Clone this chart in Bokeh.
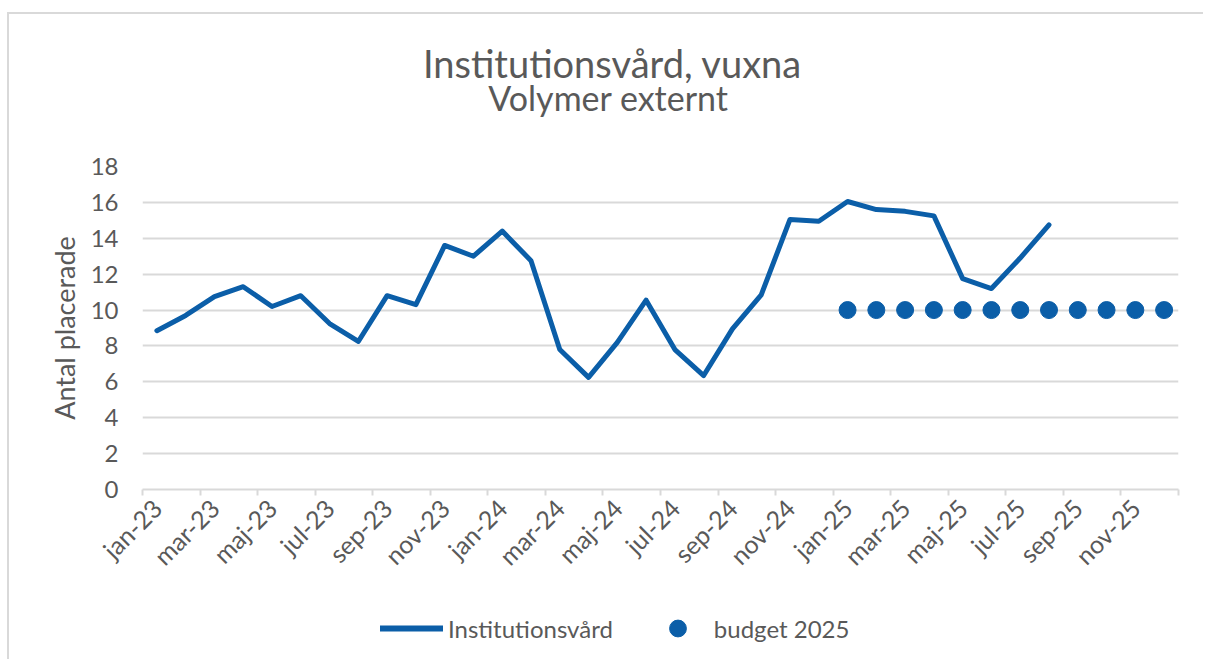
import math
from bokeh.plotting import figure
from bokeh.layouts import column
from bokeh.models import (Range1d, FixedTicker, Label, Legend, ColumnDataSource)
from bokeh.embed import file_html
from bokeh.resources import INLINE

# ---- data ----
months = ["jan-23", "feb-23", "mar-23", "apr-23", "maj-23", "jun-23",
          "jul-23", "aug-23", "sep-23", "okt-23", "nov-23", "dec-23",
          "jan-24", "feb-24", "mar-24", "apr-24", "maj-24", "jun-24",
          "jul-24", "aug-24", "sep-24", "okt-24", "nov-24", "dec-24",
          "jan-25", "feb-25", "mar-25", "apr-25", "maj-25", "jun-25",
          "jul-25", "aug-25", "sep-25", "okt-25", "nov-25", "dec-25"]
institutionsvard = [8.85, 9.7, 10.75, 11.3, 10.2, 10.8, 9.25, 8.25, 10.8, 10.3,
                    13.6, 13.0, 14.4, 12.75, 7.8, 6.25, 8.2, 10.55, 7.8, 6.35,
                    8.95, 10.85, 15.05, 14.95, 16.05, 15.6, 15.5, 15.25, 11.75,
                    11.2, 12.9, 14.75]
budget_months = ["jan-25", "feb-25", "mar-25", "apr-25", "maj-25", "jun-25",
                 "jul-25", "aug-25", "sep-25", "okt-25", "nov-25", "dec-25"]
budget_2025 = [10, 10, 10, 10, 10, 10, 10, 10, 10, 10, 10, 10]
y_ticks = [0, 2, 4, 6, 8, 10, 12, 14, 16, 18]

title_text = "Institutionsvård, vuxna"
subtitle_text = "Volymer externt"
y_label = "Antal placerade"
series_names = ["Institutionsvård", "budget 2025"]

BLUE = "#0B5EA8"
GREY_TXT = "#595959"
GRID = "#d9d9d9"
FONT = "Lato"
W = 1194

idx = {m: i for i, m in enumerate(months)}
src_line = ColumnDataSource(dict(x=[idx[m] for m in months[:len(institutionsvard)]],
                                 y=institutionsvard))
src_bud = ColumnDataSource(dict(x=[idx[m] for m in budget_months], y=budget_2025))


def bare(height):
    f = figure(width=W, height=height, output_backend="svg", toolbar_location=None,
               x_range=Range1d(0, 1), y_range=Range1d(0, 1),
               x_axis_location=None, y_axis_location=None,
               min_border_left=0, min_border_right=0, min_border_top=0,
               min_border_bottom=0)
    f.title = None
    f.outline_line_color = None
    f.grid.visible = False
    return f


# ---- title block (its frame is aligned with the chart frame) ----
pt = bare(110)
pt.add_layout(Label(x=470, y=62, x_units="screen", y_units="screen", text=title_text,
                    text_align="center", text_baseline="alphabetic", text_font=FONT,
                    text_font_size="38px", text_color=GREY_TXT))
pt.add_layout(Label(x=466, y=27, x_units="screen", y_units="screen", text=subtitle_text,
                    text_align="center", text_baseline="alphabetic", text_font=FONT,
                    text_font_size="34px", text_color=GREY_TXT))

# ---- main chart ----
p = figure(width=W, height=480, output_backend="svg", toolbar_location=None,
           x_range=Range1d(-0.5, len(months) - 0.5), y_range=Range1d(0, 18),
           min_border_left=133, min_border_right=25, min_border_top=42,
           min_border_bottom=115)
p.title = None
p.outline_line_color = None

p.xgrid.grid_line_color = None
p.ygrid.grid_line_color = GRID
p.ygrid.grid_line_width = 2
p.yaxis.ticker = FixedTicker(ticks=y_ticks)

p.yaxis.axis_line_color = None
p.yaxis.major_tick_line_color = None
p.yaxis.minor_tick_line_color = None
p.yaxis.major_tick_out = 0
p.yaxis.major_label_standoff = 24
p.yaxis.major_label_text_font = FONT
p.yaxis.major_label_text_font_size = "24px"
p.yaxis.major_label_text_color = GREY_TXT
p.yaxis.axis_label = y_label
p.yaxis.axis_label_text_font = FONT
p.yaxis.axis_label_text_font_size = "27px"
p.yaxis.axis_label_text_font_style = "normal"
p.yaxis.axis_label_text_color = GREY_TXT
p.yaxis.axis_label_standoff = 7

label_idx = list(range(0, len(months), 2))
p.xaxis.ticker = FixedTicker(ticks=label_idx,
                             minor_ticks=[i - 0.5 for i in range(0, len(months) + 1, 2)])
p.xaxis.major_label_overrides = {i: months[i] for i in label_idx}
p.xaxis.major_tick_line_color = None
p.xaxis.major_tick_out = 0
p.xaxis.minor_tick_line_color = GRID
p.xaxis.minor_tick_line_width = 2
p.xaxis.minor_tick_in = 0
p.xaxis.minor_tick_out = 6
p.xaxis.axis_line_color = GRID
p.xaxis.axis_line_width = 2
p.xaxis.major_label_orientation = math.pi / 4
p.xaxis.major_label_standoff = 8
p.xaxis.major_label_text_font = FONT
p.xaxis.major_label_text_font_size = "25px"
p.xaxis.major_label_text_color = GREY_TXT

line_style = dict(line_color=BLUE, line_width=5, line_join="round", line_cap="round")
dot_style = dict(marker="circle", size=17, fill_color=BLUE, line_color=BLUE)
p.line("x", "y", source=src_line, **line_style)
p.scatter("x", "y", source=src_bud, **dot_style)

# ---- legend block (proxy renderers sit outside this strip's visible range) ----
pl = bare(55)
proxy = ColumnDataSource(dict(x=[-10, -9], y=[-10, -10]))
lr = pl.line("x", "y", source=proxy, line_color=BLUE, line_width=6,
             line_join="round", line_cap="round")
sr = pl.scatter("x", "y", source=proxy, **dot_style)
legend = Legend(items=[(series_names[0], [lr]), (series_names[1], [sr])],
                orientation="horizontal", location=(238, 10),
                border_line_color=None, background_fill_alpha=0, padding=0, margin=0,
                spacing=33, glyph_width=63, glyph_height=42, label_standoff=5,
                label_height=20, label_text_font=FONT, label_text_font_size="24px",
                label_text_color=GREY_TXT)
pl.add_layout(legend)

root = column(pt, p, pl, spacing=0)
root.styles = {"margin-left": "7px", "margin-top": "12px",
               "border-top": "2px solid #d9d9d9", "border-left": "2px solid #d9d9d9"}

open("out.html", "w").write(file_html(root, INLINE))
